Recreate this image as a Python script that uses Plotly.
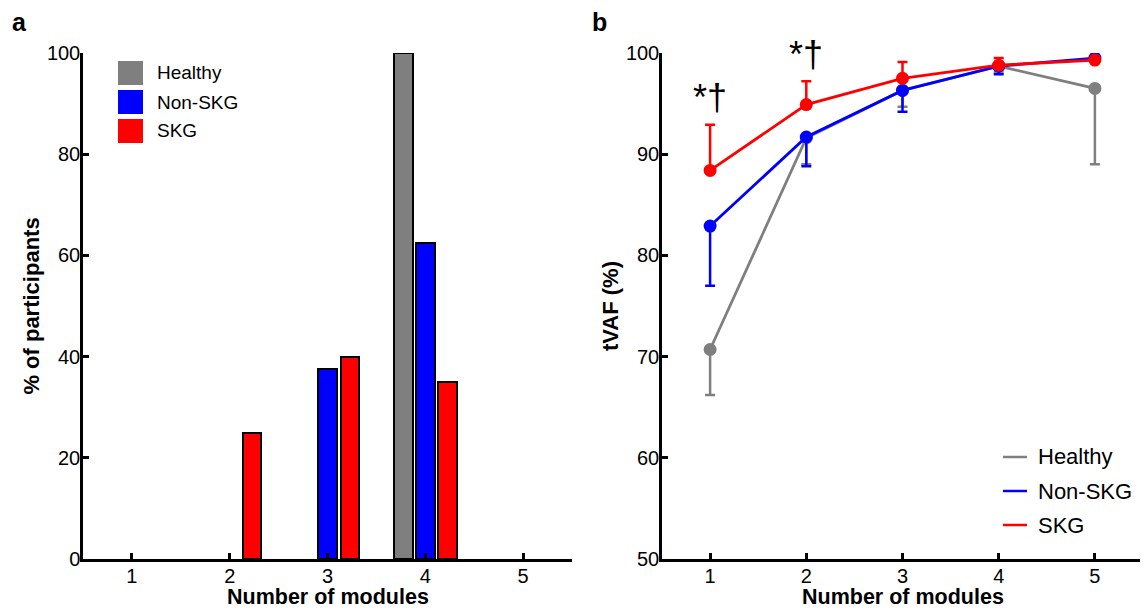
import plotly.graph_objects as go

# page body has an 8px margin, so the figure is laid out in page coords shifted by 8px
OFF = 8
W, H = 1148 - OFF, 610 - OFF


def px(xp):
    return (xp - OFF) / W


def py(yp):
    return 1 - (yp - OFF) / H


# ---------------- data ----------------
modules = [1, 2, 3, 4, 5]
groups = ["Healthy", "Non-SKG", "SKG"]
colors = {"Healthy": "#7f7f7f", "Non-SKG": "#0000ff", "SKG": "#ff0000"}

# panel a: % of participants by number of modules
pct_healthy = [0, 0, 0, 100, 0]
pct_nonskg = [0, 0, 37.5, 62.5, 0]
pct_skg = [0, 25, 40, 35, 0]

# panel b: tVAF (%) mean and one-sided SD
tvaf_healthy = [70.7, 91.6, 96.3, 98.7, 96.5]
tvaf_healthy_err_minus = [4.5, 2.6, 1.6, 0.6, 7.5]
tvaf_nonskg = [82.9, 91.7, 96.3, 98.7, 99.5]
tvaf_nonskg_err_minus = [5.9, 2.9, 2.1, 0.8, 0.2]
tvaf_skg = [88.4, 94.9, 97.5, 98.8, 99.3]
tvaf_skg_err_plus = [4.5, 2.3, 1.6, 0.7, 0.3]

sig_x = [1, 2]
sig_y = [95.6, 99.9]
sig_text = ["*†", "*†"]

x_title = "Number of modules"
FONT = "Arial, Liberation Sans, sans-serif"

fig = go.Figure()

# ---------------- panel a bars ----------------
bw = 0.19
for name, vals, off in [("Healthy", pct_healthy, -0.225),
                        ("Non-SKG", pct_nonskg, 0.0),
                        ("SKG", pct_skg, 0.228)]:
    xs = [m for m, v in zip(modules, vals) if v > 0]
    ys = [v for v in vals if v > 0]
    fig.add_trace(go.Bar(
        x=xs, y=ys, width=bw, offset=off - bw / 2,
        marker=dict(color=colors[name], line=dict(color="black", width=2)),
        name=name, showlegend=False, xaxis="x", yaxis="y",
    ))


# ---------------- panel b lines ----------------
def line_trace(name, y, plus=None, minus=None):
    err = dict(type="data", symmetric=False,
               array=plus if plus else [0] * len(y),
               arrayminus=minus if minus else [0] * len(y),
               color=colors[name], thickness=2.5, width=5)
    return go.Scatter(
        x=modules, y=y, mode="lines+markers", name=name,
        line=dict(color=colors[name], width=2.8),
        marker=dict(color=colors[name], size=13),
        error_y=err, showlegend=False, xaxis="x2", yaxis="y2",
    )


fig.add_trace(line_trace("Healthy", tvaf_healthy, minus=tvaf_healthy_err_minus))
fig.add_trace(line_trace("Non-SKG", tvaf_nonskg, minus=tvaf_nonskg_err_minus))
fig.add_trace(line_trace("SKG", tvaf_skg, plus=tvaf_skg_err_plus))

axis_common = dict(
    showline=True, linecolor="black", linewidth=2.5,
    ticks="inside", ticklen=6, tickwidth=2.5, tickcolor="black",
    showgrid=False, zeroline=False, automargin=False,
    tickfont=dict(family=FONT, size=20, color="black"),
)
title_font = dict(family=FONT, size=22, color="black")

fig.update_layout(
    width=W, height=H,
    margin=dict(l=0, r=0, t=0, b=0, autoexpand=False),
    paper_bgcolor="white", plot_bgcolor="white",
    font=dict(family=FONT, color="black"),
    bargap=0,
    xaxis=dict(domain=[px(83), px(572)], range=[0.5, 5.5], ticklabelstandoff=-3,
               tickvals=modules, anchor="y", **axis_common),
    yaxis=dict(domain=[py(559), py(53)], range=[0, 100],
               tickvals=[0, 20, 40, 60, 80, 100], anchor="x", ticklabelstandoff=-4,
               title=dict(text="<b>% of participants</b>", font=title_font, standoff=2),
               **axis_common),
    xaxis2=dict(domain=[px(662), px(1143)], range=[0.5, 5.5], ticklabelstandoff=-3,
                tickvals=modules, anchor="y2", **axis_common),
    yaxis2=dict(domain=[py(559), py(53)], range=[50, 100],
                tickvals=[50, 60, 70, 80, 90, 100], anchor="x2", ticklabelstandoff=-4,
                title=dict(text="<b>tVAF (%)</b>", font=title_font, standoff=2),
                **axis_common),
)

# x-axis titles, sitting at the bottom edge like the reference
for cx in [(83 + 572) / 2, (662 + 1143) / 2]:
    fig.add_annotation(x=px(cx), y=0, xref="paper", yref="paper",
                       text="<b>" + x_title + "</b>", showarrow=False,
                       xanchor="center", yanchor="bottom", borderpad=0,
                       font=dict(family=FONT, size=21.5, color="black"))

# significance markers
for sx, sy, st in zip(sig_x, sig_y, sig_text):
    fig.add_annotation(x=sx, y=sy, xref="x2", yref="y2", text=st, showarrow=False,
                       font=dict(family=FONT, size=36, color="black"),
                       xanchor="center", yanchor="middle")

# panel labels
fig.add_annotation(x=px(10), y=py(22), xref="paper", yref="paper", text="<b>a</b>",
                   showarrow=False, xanchor="left", yanchor="middle",
                   font=dict(family=FONT, size=25, color="black"))
fig.add_annotation(x=px(590), y=py(22), xref="paper", yref="paper", text="<b>b</b>",
                   showarrow=False, xanchor="left", yanchor="middle",
                   font=dict(family=FONT, size=25, color="black"))

# legend panel a (squares)
leg_a_y = [73, 102, 131]
for name, cy in zip(groups, leg_a_y):
    fig.add_shape(type="rect", xref="paper", yref="paper",
                  x0=px(118), x1=px(143), y0=py(cy - 12), y1=py(cy + 12),
                  fillcolor=colors[name], line=dict(width=0))
    fig.add_annotation(x=px(155), y=py(cy), xref="paper", yref="paper", text=name,
                       showarrow=False, xanchor="left", yanchor="middle",
                       font=dict(family=FONT, size=19, color="black"))

# legend panel b (lines)
leg_b_y = [457, 491, 525]
for name, cy in zip(groups, leg_b_y):
    fig.add_shape(type="line", xref="paper", yref="paper",
                  x0=px(1003), x1=px(1027), y0=py(cy), y1=py(cy),
                  line=dict(color=colors[name], width=2.5))
    fig.add_annotation(x=px(1036), y=py(cy), xref="paper", yref="paper", text=name,
                       showarrow=False, xanchor="left", yanchor="middle",
                       font=dict(family=FONT, size=22, color="black"))

fig.write_html("out.html")
